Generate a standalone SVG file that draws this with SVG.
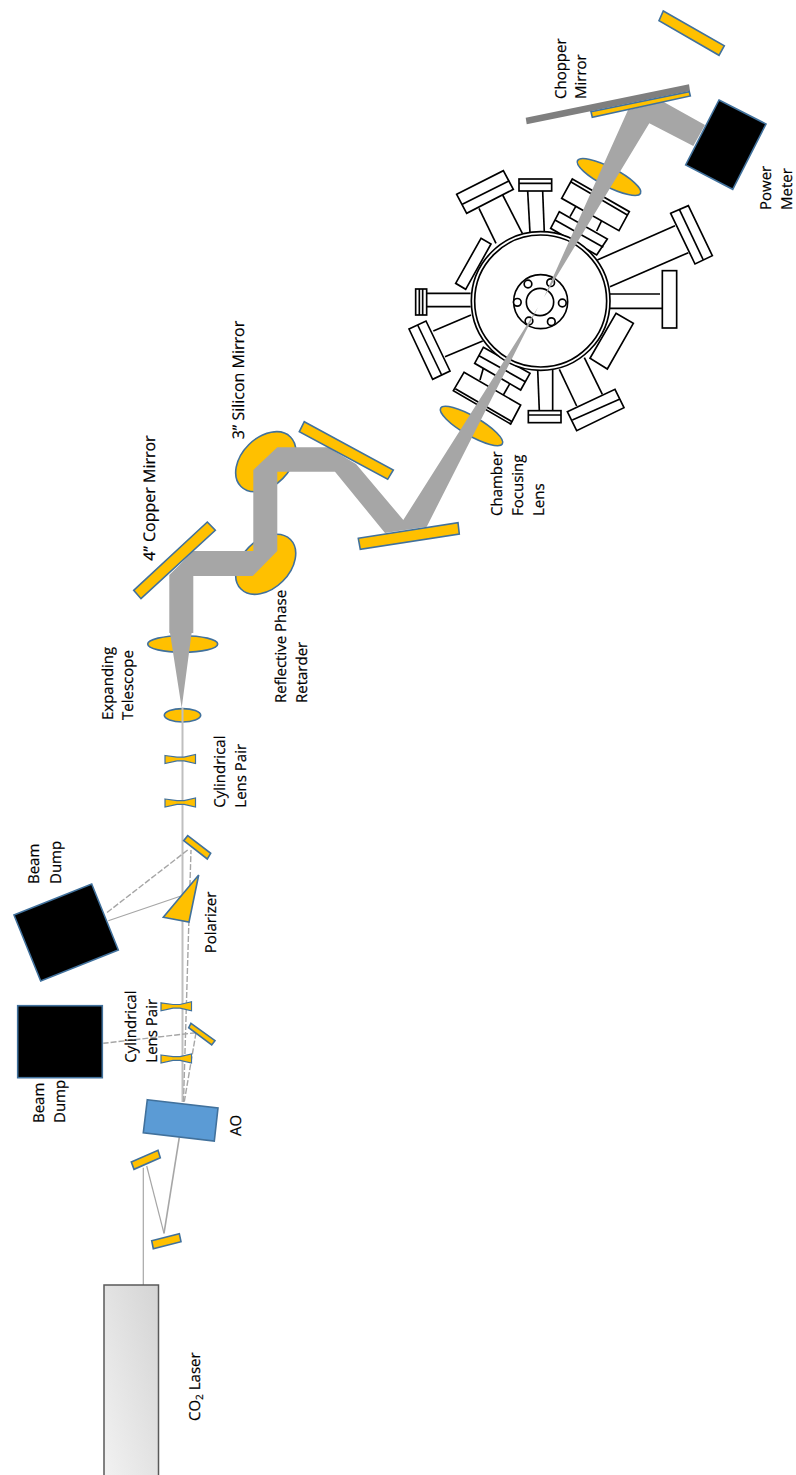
<svg xmlns="http://www.w3.org/2000/svg" width="796" height="1475" viewBox="0 0 796 1475">
<style>
.y{fill:#ffc000;stroke:#41719c;stroke-width:1.6}
.c{stroke-width:1.2}
.k{fill:#000;stroke:#41719c;stroke-width:1.6}
.b{fill:#a6a6a6;stroke:none}
.t{fill:none;stroke:#a6a6a6;stroke-width:1.2}
.d{fill:none;stroke:#a6a6a6;stroke-width:1.4;stroke-dasharray:6 2}
.m{fill:none;stroke:#bfbfbf;stroke-width:2}
.p polygon,.p rect,.p circle{fill:#fff;stroke:#000;stroke-width:5}
.p line{stroke:#000;stroke-width:5}
text{font-family:"Open Sans","Liberation Sans",sans-serif;font-size:15px;fill:#000;stroke:#000;stroke-width:.2;text-rendering:geometricPrecision}
.w{font-size:16px}
</style>
<defs>
<linearGradient id="lg" x1="0" y1="1" x2="1" y2="0"><stop offset="0" stop-color="#f2f2f2"/><stop offset="1" stop-color="#d4d4d4"/></linearGradient>
<path id="cyl" d="M0,-3.5 L12,-1.8 H19 L30.5,-4.6 V4.5 L19,1.8 H12 L0,4.5Z"/>
</defs>

<g id="lenses-under">
<ellipse id="lens-top" class="y" cx="609" cy="177" rx="35.5" ry="9.5" transform="rotate(27.4 609 177)"/>
<ellipse id="lens-chamber" class="y" cx="471.5" cy="426" rx="35.6" ry="9.5" transform="rotate(30 471.5 426)"/>
<ellipse id="silicon" class="y" cx="265.7" cy="461.7" rx="35" ry="24" transform="rotate(-45 265.7 461.7)"/>
<ellipse id="retarder" class="y" cx="265.7" cy="564.3" rx="35" ry="24" transform="rotate(-45 265.7 564.3)"/>
<ellipse id="expand-large" class="y" cx="182.7" cy="644" rx="35" ry="8.3"/>
<ellipse id="expand-small" class="y" cx="182.5" cy="715.3" rx="18.2" ry="6.7"/>
</g>

<g id="chamber" class="p" transform="translate(400 160) scale(.33333)">
<polygon points="170,103 310,32 340,88 200,160"/><line x1="187" y1="133" x2="328" y2="62"/><line x1="237" y1="145" x2="288" y2="250"/><line x1="308" y1="105" x2="367" y2="220"/>
<rect x="357" y="57" width="98" height="36"/><line x1="357" y1="70" x2="455" y2="70"/><line x1="383" y1="93" x2="390" y2="218"/><line x1="428" y1="93" x2="433" y2="218"/>
<polygon points="243,235 273,252 197,388 167,370"/>
<rect x="47" y="387" width="33" height="78"/><line x1="58" y1="387" x2="58" y2="465"/><line x1="68" y1="387" x2="68" y2="465"/><line x1="80" y1="400" x2="212" y2="400"/><line x1="80" y1="440" x2="212" y2="440"/>
<polygon points="27,507 78,483 150,633 98,658"/><line x1="53" y1="495" x2="125" y2="645"/><line x1="100" y1="513" x2="213" y2="465"/><line x1="135" y1="590" x2="248" y2="543"/>
<polygon points="250,562 390,640 362,690 224,610"/><line x1="237" y1="587" x2="376" y2="665"/><line x1="250" y1="625" x2="240" y2="660"/><line x1="330" y1="670" x2="310" y2="705"/>
<polygon points="192,637 362,735 332,792 160,692"/><line x1="166" y1="686" x2="336" y2="785"/>
<rect x="385" y="752" width="98" height="36"/><line x1="385" y1="765" x2="483" y2="765"/><line x1="413" y1="628" x2="418" y2="752"/><line x1="458" y1="628" x2="458" y2="752"/>
<polygon points="502,755 645,688 672,743 530,812"/><line x1="517" y1="780" x2="660" y2="717"/><line x1="478" y1="628" x2="530" y2="738"/><line x1="553" y1="593" x2="607" y2="703"/>
<polygon points="648,460 700,490 622,627 570,595"/>
<rect x="787" y="332" width="43" height="172"/><line x1="630" y1="402" x2="780" y2="402"/><line x1="630" y1="445" x2="787" y2="445"/>
<polygon points="812,160 865,137 937,287 885,312"/><line x1="838" y1="148" x2="910" y2="300"/><line x1="592" y1="300" x2="825" y2="197"/><line x1="630" y1="380" x2="865" y2="278"/>
<polygon points="478,155 622,237 590,285 452,205"/><line x1="465" y1="180" x2="610" y2="262"/><line x1="527" y1="140" x2="510" y2="170"/><line x1="605" y1="182" x2="590" y2="213"/>
<polygon points="517,57 688,155 657,212 485,115"/><line x1="512" y1="65" x2="682" y2="165"/>
<circle cx="422" cy="423" r="208"/><circle cx="422" cy="423" r="198"/>
<circle cx="422" cy="425" r="81"/><circle cx="420" cy="426" r="41"/>
<circle cx="384" cy="372" r="11.5"/><circle cx="452" cy="368" r="11.5"/><circle cx="352" cy="427" r="11.5"/><circle cx="487" cy="429" r="11.5"/><circle cx="387" cy="483" r="11.5"/><circle cx="454" cy="485" r="11.5"/>
</g>

<g id="connectors">
<polygon class="b" points="181.7,708 170,633 169.3,633 169.3,575 193.3,551 253.3,551 253.3,470 277.3,447.3 328,447.3 356,464 403.3,520 538,307.3 426.7,526.7 385,533 335,471.7 277.3,471.7 277.3,551 252.7,576 193.3,576 193.3,633 191.6,633"/>
<polygon class="b" points="544,297.3 628,110 663.3,101.7 705,125 693.3,146 649.3,123.3"/>
<line class="t" x1="143.3" y1="1285" x2="143.3" y2="1167.7"/>
<line class="t" x1="146.7" y1="1166" x2="164" y2="1233.3"/>
<line class="m" style="stroke-width:1.6;stroke:#a6a6a6" x1="164" y1="1233.3" x2="179.3" y2="1137.3"/>
<line class="m" x1="182.5" y1="708" x2="182.5" y2="1102"/>
<line class="d" x1="183.5" y1="1102" x2="191" y2="850"/>
<line class="d" x1="187.7" y1="850" x2="106" y2="913.3"/>
<line class="t" x1="181.7" y1="895.7" x2="108.3" y2="920.7"/>
<line class="d" x1="196" y1="1032.7" x2="103.3" y2="1043.3"/>
<line class="d" x1="196" y1="1032.7" x2="184.3" y2="1101.7"/>
</g>

<g id="optics">
<polygon id="mirror-top" class="y" points="663.3,11 724.3,45.7 719,55.3 659,20.7"/>
<polygon id="chopper" points="525.7,117.7 689,84.3 690,91 526.7,124.3" fill="#7f7f7f"/>
<polygon id="chopper-mirror" class="y" points="591,111.7 689.3,91.7 690.3,96 592.3,117.3"/>
<polygon id="power-meter" class="k" points="719,100 766,124 732.7,189.3 685.7,165"/>
<polygon id="mirror-3" class="y" points="304.3,421.7 393.3,470 387.7,479.3 299.3,431.7"/>
<polygon id="mirror-4" class="y" points="358.3,538.3 458,522.7 459.3,534 360.3,549.3"/>
<polygon id="copper" class="y" points="207.3,522 215.3,530.3 141,598.7 133.7,590.3"/>
<use id="cyl-1" href="#cyl" class="y c" x="165" y="759"/>
<use id="cyl-2" href="#cyl" class="y c" x="165" y="802.5"/>
<use id="cyl-3" href="#cyl" class="y c" x="161" y="1006.3"/>
<use id="cyl-4" href="#cyl" class="y c" x="161" y="1058.5"/>
<polygon id="mirror-pol" class="y" points="187.7,835.7 210.7,853.3 207.3,859 183.7,840.7"/>
<polygon id="polarizer" class="y" points="198.7,875 189,922 163.3,917.3"/>
<polygon id="dump-1" class="k" points="91.7,884 118.3,950 40.7,981 14,915"/>
<rect id="dump-2" class="k" x="17.7" y="1005.7" width="84.6" height="72"/>
<polygon id="mirror-ao" class="y" points="191,1023.3 215,1040.7 211.7,1045 188.7,1027.7"/>
<polygon id="ao" points="147.3,1099.7 218,1108 214.3,1141 143.3,1132.7" fill="#5b9bd5" stroke="#41719c" stroke-width="1.6"/>
<polygon id="m1" class="y" points="131.3,1162 158,1150.3 160.3,1157.7 134,1169.3"/>
<polygon id="m2" class="y" points="151.7,1240.7 179.3,1233.7 181,1241.7 153.3,1248.7"/>
<rect id="laser" x="104" y="1285" width="54.5" height="195" fill="url(#lg)" stroke="#595959" stroke-width="1.5"/>
</g>

<g id="labels">
<text transform="translate(565.7 99) rotate(-90)">Chopper</text>
<text transform="translate(586 99) rotate(-90)">Mirror</text>
<text transform="translate(771 210) rotate(-90)">Power</text>
<text transform="translate(791.7 210) rotate(-90)">Meter</text>
<text transform="translate(502 516) rotate(-90)">Chamber</text>
<text transform="translate(523 516) rotate(-90)">Focusing</text>
<text transform="translate(544 516) rotate(-90)">Lens</text>
<text class="w" transform="translate(244 439.3) rotate(-90)">3’’ Silicon Mirror</text>
<text class="w" transform="translate(155 560.7) rotate(-90)">4’’ Copper Mirror</text>
<text transform="translate(285.7 703) rotate(-90)">Reflective Phase</text>
<text transform="translate(306.7 703) rotate(-90)">Retarder</text>
<text transform="translate(113.3 720) rotate(-90)">Expanding</text>
<text transform="translate(133.3 720) rotate(-90)">Telescope</text>
<text transform="translate(225 807.7) rotate(-90)">Cylindrical</text>
<text transform="translate(246 807.7) rotate(-90)">Lens Pair</text>
<text transform="translate(39.3 884) rotate(-90)">Beam</text>
<text transform="translate(60.7 884) rotate(-90)">Dump</text>
<text transform="translate(216 953.3) rotate(-90)">Polarizer</text>
<text transform="translate(136 1062.7) rotate(-90)">Cylindrical</text>
<text transform="translate(156.7 1062.7) rotate(-90)">Lens Pair</text>
<text transform="translate(44 1123) rotate(-90)">Beam</text>
<text transform="translate(65 1123) rotate(-90)">Dump</text>
<text transform="translate(240.7 1136) rotate(-90)">AO</text>
<text transform="translate(200 1421) rotate(-90)">CO<tspan dy="3" font-size="10">2</tspan><tspan dy="-3"> Laser</tspan></text>
</g>
</svg>
